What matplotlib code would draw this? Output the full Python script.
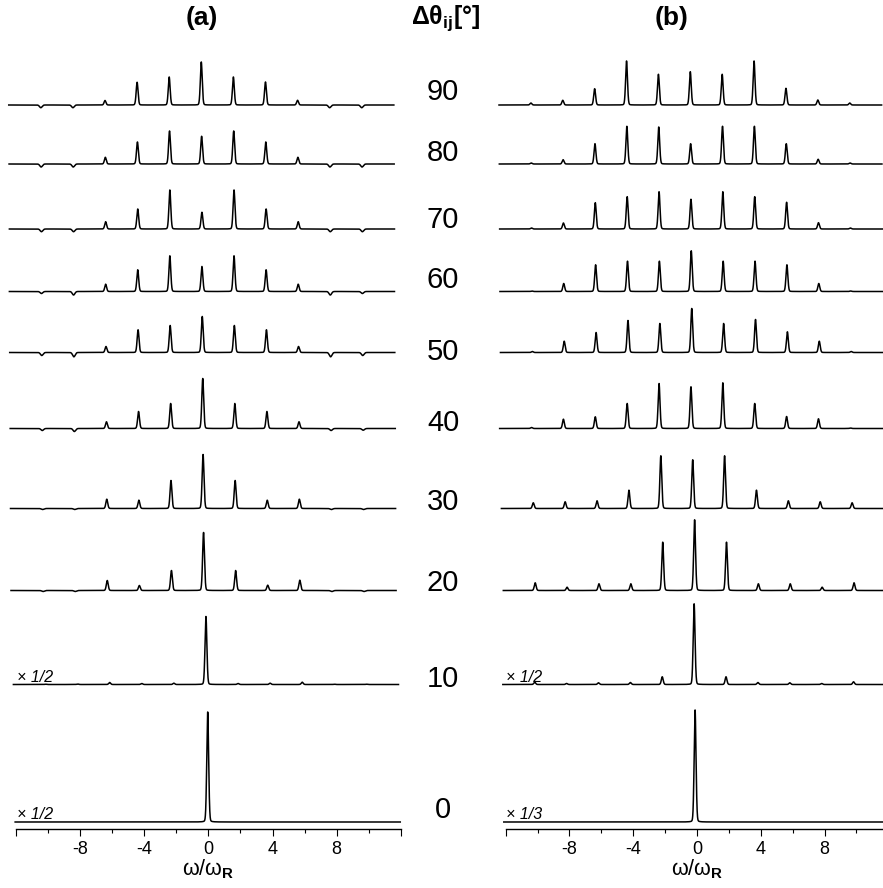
import numpy as np
import matplotlib.pyplot as plt
from matplotlib.ticker import FixedLocator, FixedFormatter, MultipleLocator

plt.rcParams['font.family'] = ['Liberation Sans', 'DejaVu Sans']
plt.rcParams['mathtext.fontset'] = 'custom'
plt.rcParams['mathtext.rm'] = 'Liberation Sans'
plt.rcParams['mathtext.it'] = 'Liberation Sans:italic'
plt.rcParams['mathtext.bf'] = 'Liberation Sans:bold'

# angle difference for each trace, bottom to top
dtheta = [0, 10, 20, 30, 40, 50, 60, 70, 80, 90]
# sideband orders in units of the spinning frequency
orders = [-10, -8, -6, -4, -2, 0, 2, 4, 6, 8, 10]

# sideband intensities (negative = inverted), one row per angle, panel (a)
amp_a = [
    [0, 0, 0, 0, 0, 110, 0, 0, 0, 0, 0],
    [0.3, 0.5, 2, 1, 1.3, 68, 1, 1.3, 2.3, 0.3, 0.3],
    [-1, -1, 10, 5, 20, 58, 20, 5.3, 10.3, -1, -1],
    [-1, -1, 9.3, 8.3, 28, 54, 28, 8.3, 9.3, -1, -1],
    [-2, -3, 6.7, 17, 25, 50, 25, 17, 6.7, -2, -1.7],
    [-3, -4.3, 6, 22.7, 27, 36, 27, 22.7, 6, -4.3, -3],
    [-2, -3.5, 7.3, 21.7, 35.7, 25, 35.7, 21.7, 7.3, -3.5, -2],
    [-2.7, -2.7, 7.3, 20, 39, 16.7, 39, 20, 7.3, -2.7, -2.7],
    [-3, -3, 6.7, 22, 33, 27.7, 33, 22, 6.7, -3, -3],
    [-2.7, -2.7, 4.5, 22.7, 28, 43, 28, 23, 4.7, -2.7, -2.7],
]
# panel (b)
amp_b = [
    [0, 0, 0, 0, 0, 112, 0, 0, 0, 0, 0],
    [2.3, 1, 1.7, 2, 7.7, 80.7, 7.7, 2, 1.7, 1, 2.7],
    [7.7, 3.3, 6.7, 6.7, 48.3, 70.7, 48.3, 6.7, 6.7, 3.3, 7.7],
    [5.7, 6.7, 7.7, 18.3, 52.7, 48.7, 52.7, 18.3, 7.7, 6.7, 5.7],
    [1, 9.3, 11.7, 25, 45, 41.7, 45.7, 25, 12, 9.7, 0.5],
    [1, 11.3, 20, 32, 29, 44, 29, 33, 20.7, 11.3, 1],
    [0.5, 8, 26.7, 30.3, 30.3, 40.7, 30.3, 30.3, 26.7, 8, 0.5],
    [1, 6, 26.3, 32.3, 37.3, 29.7, 37.3, 32.3, 26.7, 6.3, 1],
    [1, 4.3, 20.3, 37.7, 37, 20.3, 37.7, 37.7, 20.3, 4.7, 1],
    [2, 4.7, 16.3, 44, 30.7, 33.3, 30.7, 44, 16.7, 5, 2],
]
# frequency offset of each trace
shift_a = [-0.04, -0.15, -0.3, -0.33, -0.35, -0.38, -0.4, -0.4, -0.42, -0.44]
shift_b = [-0.12, -0.18, -0.15, -0.27, -0.38, -0.33, -0.36, -0.38, -0.4, -0.42]
# scaling notes (trace index -> text)
scale_a = {0: '× 1/2', 1: '× 1/2'}
scale_b = {0: '× 1/3', 1: '× 1/2'}

# layout (pixels of an 883x888 canvas)
W, H = 883, 888
offsets = [7, 144.5, 238.5, 320.5, 400.5, 476.5, 537.5, 600, 665, 724]
label_y = [810, 679, 583, 502, 423, 352, 280, 220, 153, 92]


def spectrum(x, amps, shift):
    y = np.zeros_like(x)
    for pos, h in zip(orders, amps):
        d = x - (pos + shift)
        if h >= 0:
            # mostly gaussian line with a small lorentzian foot
            gau = np.exp(-0.5 * (d / 0.06)**2)
            lor = 0.05**2 / (d**2 + 0.05**2)
            y += h * (0.85 * gau + 0.15 * lor)
        else:
            y += h * np.exp(-0.5 * (d / 0.08)**2)
    return y


def panel(ax, amps, shifts, notes, title, tx):
    grid = np.linspace(-12, 12, 9601)
    for i, (a, s) in enumerate(zip(amps, shifts)):
        x = grid + s
        ax.plot(x, offsets[i] + spectrum(x, a, s), color='black', lw=1.1,
                clip_on=False, solid_joinstyle='round')
        if i in notes:
            ax.text(-11.95, offsets[i] + 3, notes[i], fontsize=11.5, style='italic',
                    ha='left', va='baseline')
    ax.set_xlim(-12, 12)
    ax.set_ylim(0, 789)
    for side in ['left', 'right', 'top']:
        ax.spines[side].set_visible(False)
    ax.spines['bottom'].set_linewidth(1.0)
    ax.set_yticks([])
    ax.xaxis.set_major_locator(FixedLocator([-12, -8, -4, 0, 4, 8, 12]))
    ax.xaxis.set_major_formatter(FixedFormatter(['', '-8', '-4', '0', '4', '8', '']))
    ax.xaxis.set_minor_locator(MultipleLocator(2))
    ax.tick_params(axis='x', which='major', direction='out', length=5, width=0.8,
                   labelsize=13, pad=3.5)
    ax.tick_params(axis='x', which='minor', direction='out', length=3, width=0.8)
    ax.set_xlabel(r'ω/ω$_\mathbf{R}$', fontsize=15.5, labelpad=0)
    fig.text(tx / W, 1 - 18 / H, title, fontsize=19, fontweight='bold',
             ha='center', va='center')


fig = plt.figure(figsize=(W / 100, H / 100), dpi=100)
ax_a = fig.add_axes([15.8 / W, 1 - 829 / H, 385.1 / W, 789 / H])
ax_b = fig.add_axes([505.7 / W, 1 - 829 / H, 382.6 / W, 789 / H])

panel(ax_a, amp_a, shift_a, scale_a, '(a)', 202)
panel(ax_b, amp_b, shift_b, scale_b, '(b)', 672)

fig.text(446 / W, 1 - 18 / H, r'Δθ$_\mathbf{ij}$[°]', fontsize=18, fontweight='bold',
         ha='center', va='center')
for d, py in zip(dtheta, label_y):
    fig.text(443 / W, 1 - py / H, str(d), fontsize=21, ha='center', va='center')

fig.savefig('out.png', dpi=100)
